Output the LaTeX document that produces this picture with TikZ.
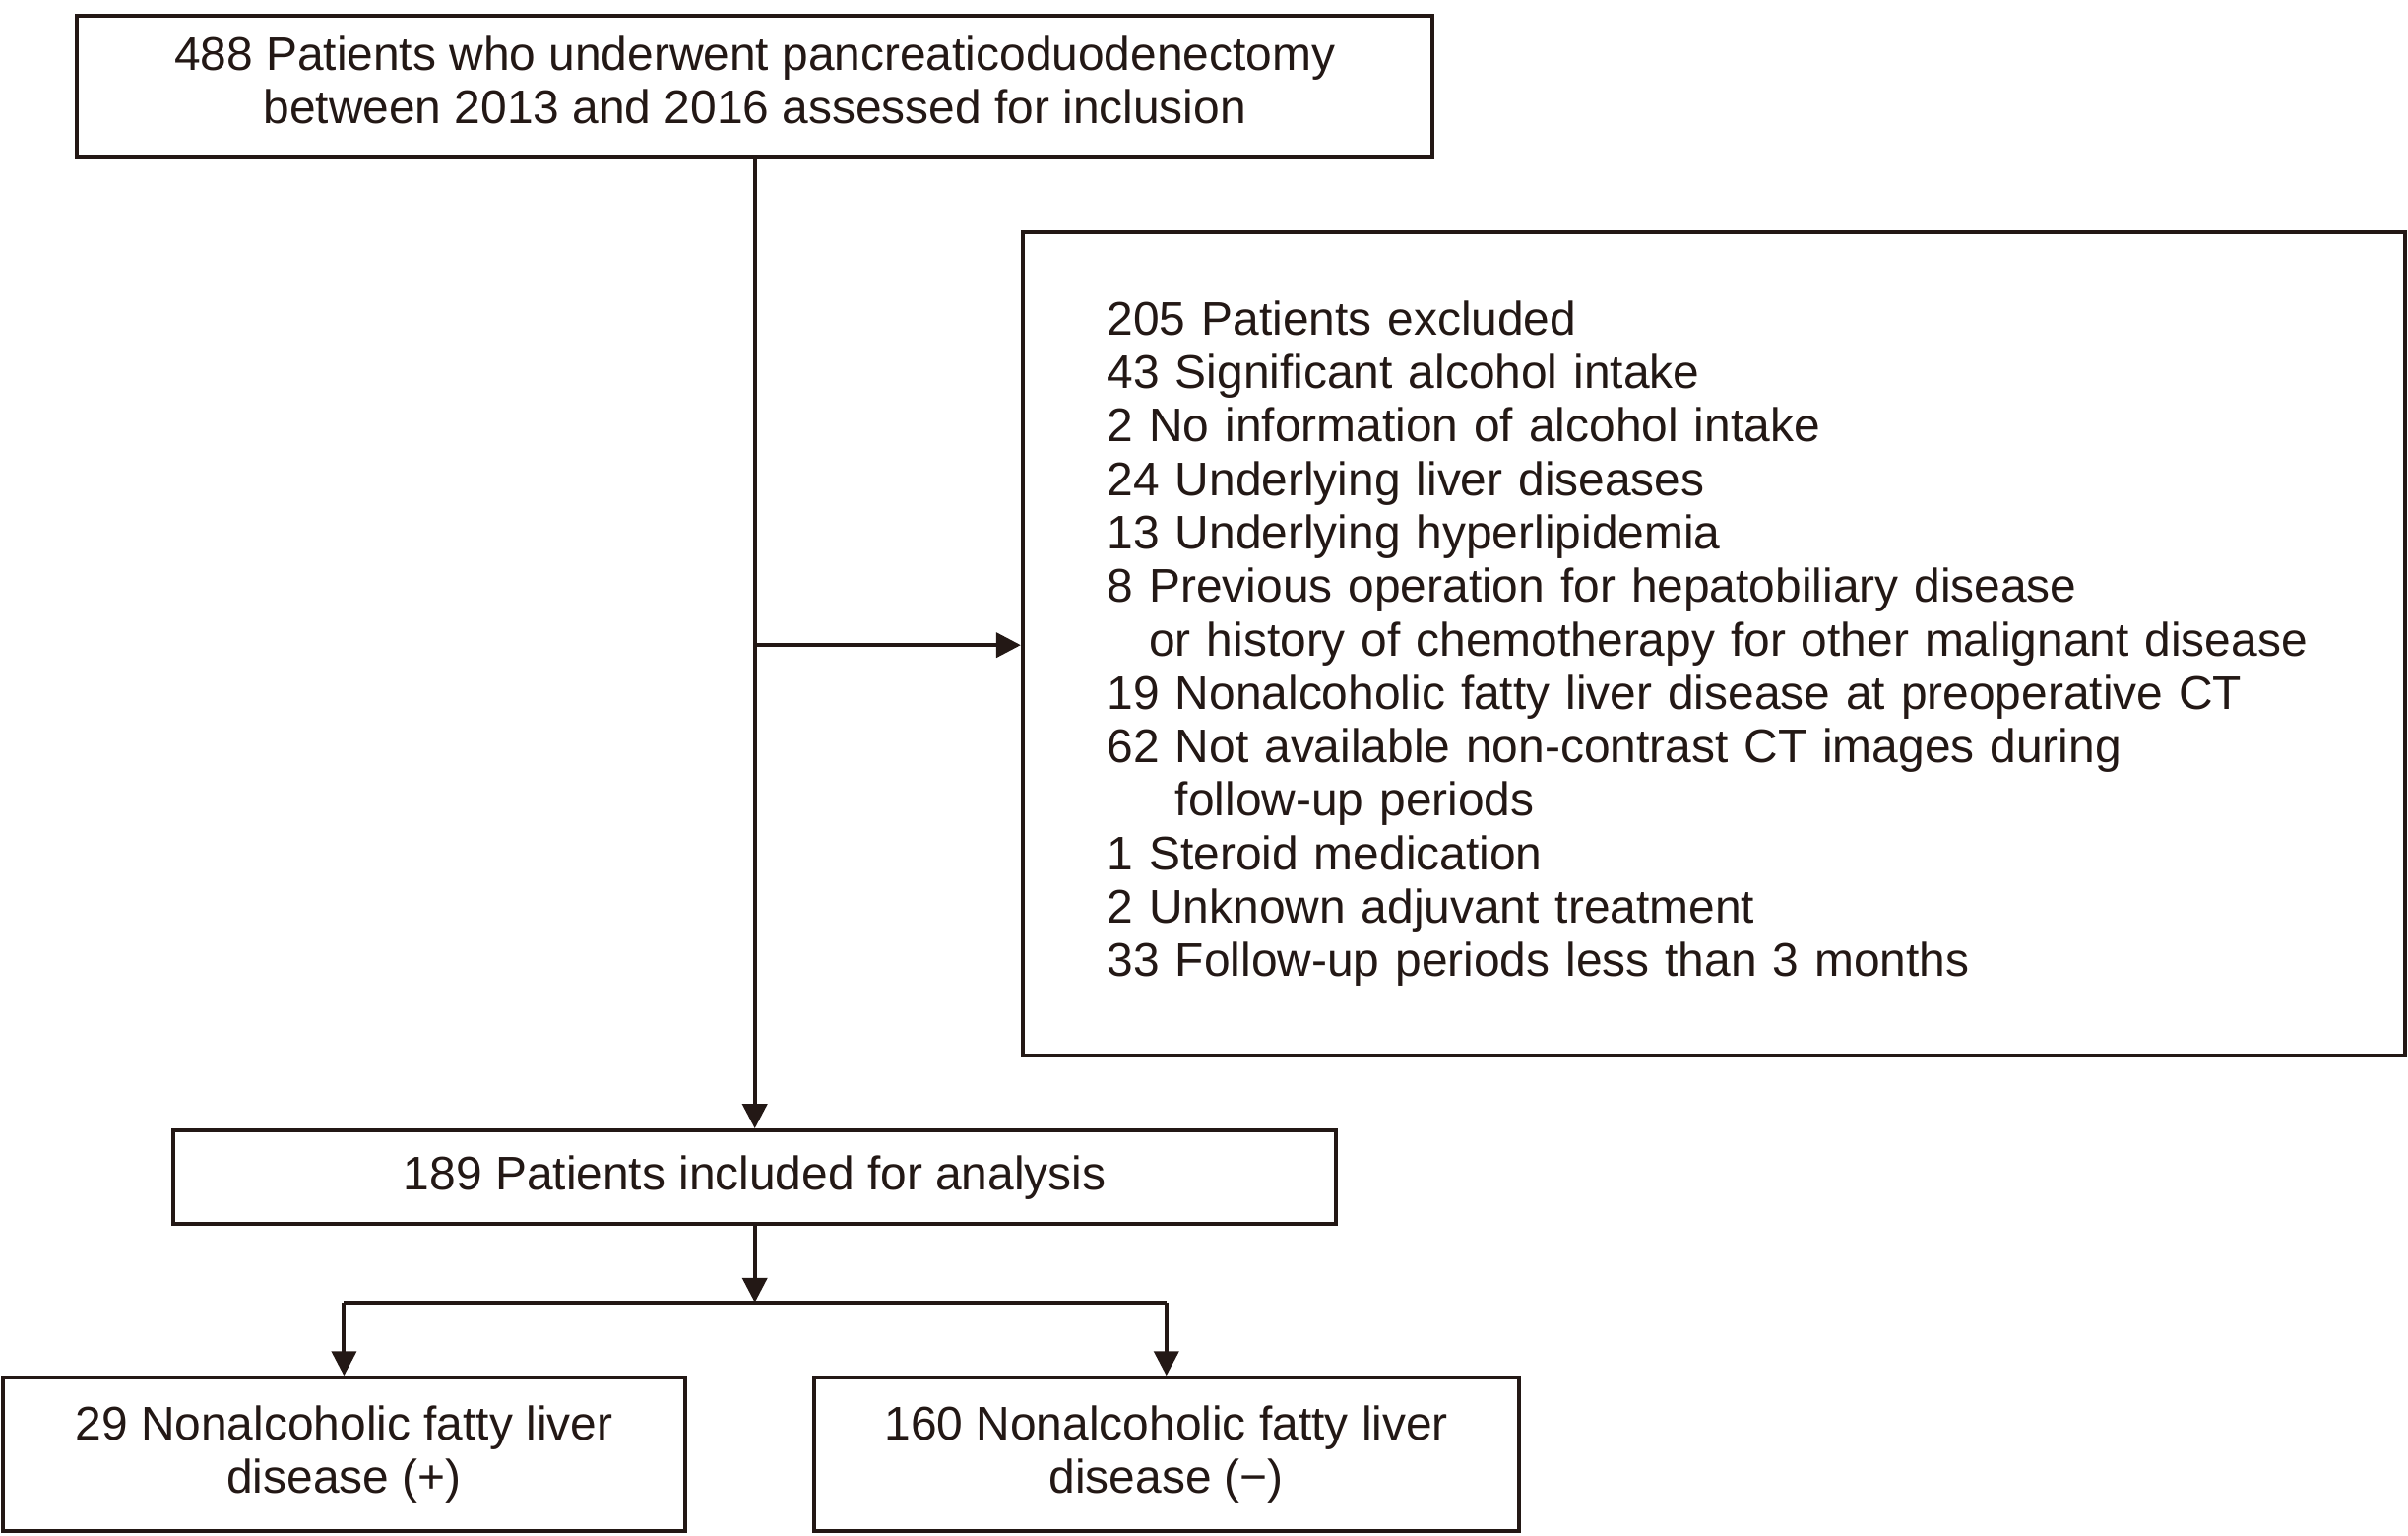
\documentclass[tikz,border=0pt]{standalone}
\usepackage{fontspec}
\setmainfont{Liberation Sans}
\usetikzlibrary{arrows.meta}
\definecolor{ink}{RGB}{35,24,21}
\begin{document}
\begin{tikzpicture}[x=0.5pt,y=-0.5pt,
  box/.style={draw=ink,line width=1.3pt,text=ink,inner sep=0pt,align=center,
    font=\fontsize{15.35}{17.4}\selectfont},
  arr/.style={draw=ink,line width=1.3pt,-{Triangle[length=8pt,width=8pt]}},
  ln/.style={draw=ink,line width=1.3pt}]
\useasboundingbox (0,0) rectangle (1568,1000);
\node[box,minimum width=441.5pt,minimum height=46pt] (top) at (491.5,56)
  {\raisebox{1.8pt}{\begin{tabular}{@{}c@{}}488 Patients who underwent pancreaticoduodenectomy\\between 2013 and 2016 assessed for inclusion\end{tabular}}};
\node[box,minimum width=450pt,minimum height=268pt,align=left,text width=395pt,inner xsep=27.5pt] (excl) at (1116,419)
  {205 Patients excluded\\
   43 Significant alcohol intake\\
   2 No information of alcohol intake\\
   24 Underlying liver diseases\\
   13 Underlying hyperlipidemia\\
   8 Previous operation for hepatobiliary disease\\
   \hphantom{8 }or history of chemotherapy for other malignant disease\\
   19 Nonalcoholic fatty liver disease at preoperative CT\\
   62 Not available non-contrast CT images during\\
   \hphantom{62 }follow-up periods\\
   1 Steroid medication\\
   2 Unknown adjuvant treatment\\
   33 Follow-up periods less than 3 months};
\node[box,minimum width=378.5pt,minimum height=30.5pt] (mid) at (491.5,766.5)
  {189 Patients included for analysis};
\node[box,minimum width=222pt,minimum height=50pt] (pos) at (224,947)
  {29 Nonalcoholic fatty liver\\disease (+)};
\node[box,minimum width=229.5pt,minimum height=50pt] (neg) at (759.5,947)
  {160 Nonalcoholic fatty liver\\disease (−)};
\coordinate (br) at (491.5,420);
\coordinate (split) at (491.5,848);
\draw[arr] (top.south) -- (mid.north);
\draw[arr] (br) -- (br -| excl.west);
\draw[arr] (mid.south) -- (split);
\draw[ln] (pos.north |- split) -- (neg.north |- split);
\draw[arr] (pos.north |- split) -- (pos.north);
\draw[arr] (neg.north |- split) -- (neg.north);
\end{tikzpicture}
\end{document}
